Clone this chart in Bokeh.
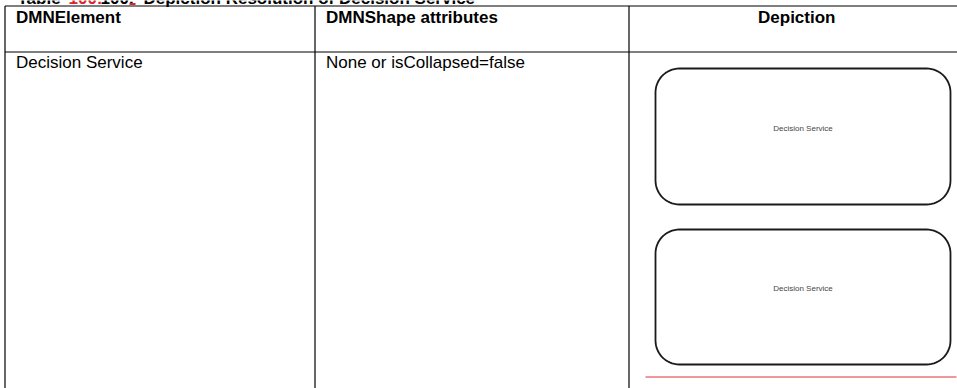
import numpy as np
from bokeh.plotting import figure
from bokeh.models import Range1d
from bokeh.core.properties import value
from bokeh.embed import file_html
from bokeh.resources import INLINE

# ---------------- content ----------------
title_parts = ["Table ", "100:", "100", ":", "Depiction Resolution of Decision Service"]
title_colors = ["#000000", "#d9262c", "#000000", "#000000", "#000000"]
headers = ["DMNElement", "DMNShape attributes", "Depiction"]
row_cells = ["Decision Service", "None or isCollapsed=false"]
depiction_labels = ["Decision Service", "Decision Service"]

# ---------------- layout (pixels) ----------------
W, H = 957, 388
FONT = value("Liberation Sans")
BASE_SHIFT = -6          # renderer puts the alphabetic baseline ~6px lower
col_edges = [4.5, 314.5, 628.5, 964]
table_top = 5.5
header_bottom = 51.5
title_x = [17, 68, 100, 128, 143]
title_y = 3.5 + BASE_SHIFT
header_baseline = 22.5 + BASE_SHIFT
row_baseline = 68 + BASE_SHIFT
cell_pad = 11
shape_left, shape_right = 655, 950
shape_tops = [68, 229]
shape_bottoms = [204, 364]
shape_label_y = [128, 288]
shape_radius = 24
red_line = (645, 956, 376.5)

p = figure(width=W, height=H, x_range=Range1d(0, W), y_range=Range1d(H, 0),
           output_backend="svg", toolbar_location=None, min_border=0,
           x_axis_type=None, y_axis_type=None)
p.grid.visible = False
p.outline_line_color = None
p.background_fill_color = "white"
p.border_fill_color = "white"

# title (partly clipped at the top, as in the reference)
p.text(x=title_x, y=[title_y] * len(title_parts), text=title_parts,
       text_color=title_colors, text_font=FONT, text_font_size="17px",
       text_font_style="bold", text_baseline="alphabetic", text_align="left")
p.segment(x0=[title_x[3] + 1], y0=[3.5], x1=[title_x[3] + 7], y1=[3.5],
          line_color="#d9262c", line_width=2)

# table grid
hx0 = [col_edges[0], col_edges[0]]
hx1 = [col_edges[-1], col_edges[-1]]
hy = [table_top, header_bottom]
p.segment(x0=hx0, y0=hy, x1=hx1, y1=hy, line_color="black", line_width=1.2)
vx = col_edges[:3]
p.segment(x0=vx, y0=[table_top] * 3, x1=vx, y1=[H] * 3, line_color="black", line_width=1.2)

# header texts
hx = [col_edges[0] + cell_pad, col_edges[1] + cell_pad, (col_edges[2] + col_edges[3]) / 2]
p.text(x=hx, y=[header_baseline] * 3, text=headers, text_font=FONT,
       text_font_size="17px", text_font_style="bold", text_baseline="alphabetic",
       text_align=["left", "left", "center"], text_color="black")

# row texts
p.text(x=[col_edges[0] + cell_pad, col_edges[1] + cell_pad], y=[row_baseline] * 2,
       text=row_cells, text_font=FONT, text_font_size="17px",
       text_baseline="alphabetic", text_align="left", text_color="black")


def rounded_rect(x0, x1, y0, y1, r, n=16):
    xs, ys = [], []
    corners = [(x1 - r, y0 + r, -np.pi / 2, 0), (x1 - r, y1 - r, 0, np.pi / 2),
               (x0 + r, y1 - r, np.pi / 2, np.pi), (x0 + r, y0 + r, np.pi, 1.5 * np.pi)]
    for cx, cy, a0, a1 in corners:
        t = np.linspace(a0, a1, n)
        xs.extend(cx + r * np.cos(t))
        ys.extend(cy + r * np.sin(t))
    return xs, ys


pxs, pys = [], []
for top, bot in zip(shape_tops, shape_bottoms):
    xs, ys = rounded_rect(shape_left, shape_right, top, bot, shape_radius)
    pxs.append(xs)
    pys.append(ys)
p.patches(xs=pxs, ys=pys, fill_color="white", line_color="#1a1a1a", line_width=1.8)

cx = (shape_left + shape_right) / 2
p.text(x=[cx] * len(depiction_labels), y=shape_label_y, text=depiction_labels,
       text_font=FONT, text_font_size="8px", text_align="center",
       text_baseline="middle", text_color="#444444")

p.segment(x0=[red_line[0]], y0=[red_line[2]], x1=[red_line[1]], y1=[red_line[2]],
          line_color="#e0323a", line_width=1.2)

open("out.html", "w").write(file_html(p, INLINE))
